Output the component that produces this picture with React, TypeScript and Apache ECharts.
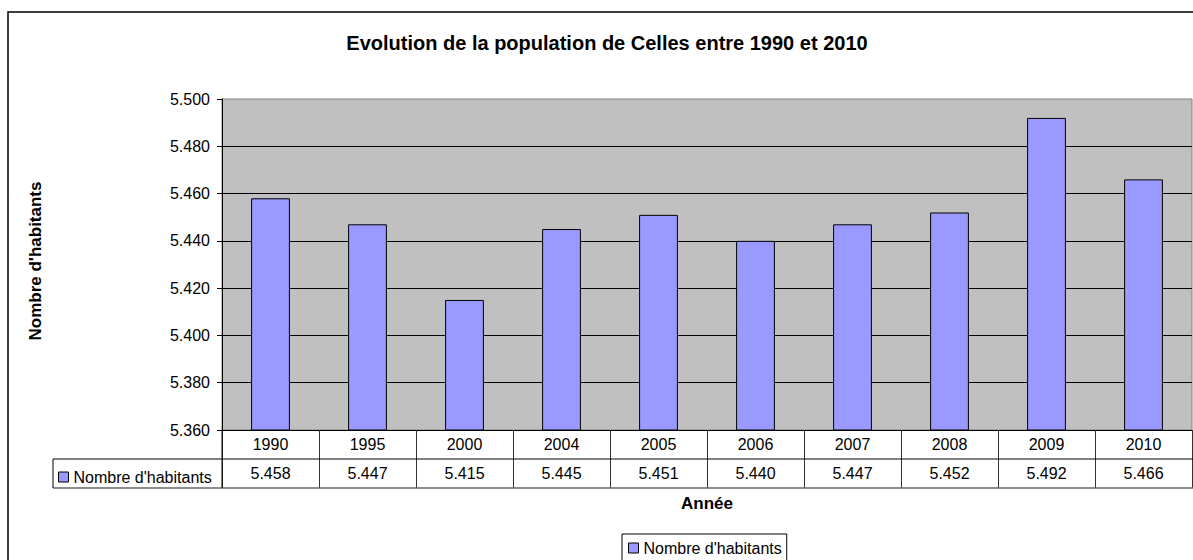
import React, { useEffect, useRef } from "react";
import * as echarts from "echarts";

const chartTitle = "Evolution de la population de Celles entre 1990 et 2010";
const years = ["1990", "1995", "2000", "2004", "2005", "2006", "2007", "2008", "2009", "2010"];
const habitants = [5458, 5447, 5415, 5445, 5451, 5440, 5447, 5452, 5492, 5466];
const seriesName = "Nombre d'habitants";
const yAxisTitle = "Nombre d'habitants";
const xAxisTitle = "Année";
const yMin = 5360;
const yMax = 5500;
const yStep = 20;

const FONT = "'Liberation Sans', Arial, sans-serif";

const fmt = (v: number): string =>
  Math.round(v)
    .toString()
    .replace(/\B(?=(\d{3})+(?!\d))/g, ".");

export default function App() {
  const ref = useRef<HTMLDivElement>(null);

  useEffect(() => {
    if (!ref.current) return;
    const chart = echarts.init(ref.current, undefined, { renderer: "svg" });

    const W = 1193;
    const gridLeft = 222;
    const gridTop = 99;
    const gridBottomY = 430;
    const rowH = 29;
    const tableLeft = 53;

    const option: any = {
      animation: false,
      backgroundColor: "#ffffff",
      textStyle: { fontFamily: FONT, color: "#000" },
      grid: {
        left: gridLeft,
        top: gridTop,
        right: 1,
        bottom: 560 - gridBottomY,
        show: true,
        backgroundColor: "#C0C0C0",
        borderColor: "#808080",
        borderWidth: 1,
        containLabel: false,
      },
      xAxis: [
        {
          type: "category",
          data: years,
          position: "bottom",
          axisLine: { show: true, lineStyle: { color: "#000", width: 1 } },
          axisTick: { show: true, inside: false, length: rowH * 2, lineStyle: { color: "#333", width: 1 } },
          axisLabel: { show: true, margin: 6, fontSize: 16, fontFamily: FONT, color: "#000" },
          splitLine: { show: false },
        },
        {
          type: "category",
          data: habitants.map(fmt),
          position: "bottom",
          offset: rowH,
          axisLine: { show: false },
          axisTick: { show: false },
          axisLabel: { show: true, margin: 6, fontSize: 16, fontFamily: FONT, color: "#000" },
          splitLine: { show: false },
        },
      ],
      yAxis: {
        type: "value",
        min: yMin,
        max: yMax,
        interval: yStep,
        axisLine: { show: true, lineStyle: { color: "#000", width: 1 } },
        axisTick: { show: true, inside: false, length: 5, lineStyle: { color: "#000" } },
        axisLabel: { margin: 12, fontSize: 16, fontFamily: FONT, color: "#000", formatter: (v: number) => fmt(v) },
        splitLine: { show: true, showMinLine: false, showMaxLine: false, lineStyle: { color: "#000", width: 1 } },
      },
      legend: [
        {
          data: [seriesName],
          left: tableLeft + 5,
          top: gridBottomY + rowH + 10,
          padding: 0,
          icon: "rect",
          itemWidth: 10,
          itemHeight: 10,
          itemStyle: { borderColor: "#000", borderWidth: 1 },
          textStyle: { fontSize: 16, fontFamily: FONT, color: "#000" },
          selectedMode: false,
        },
        {
          data: [seriesName],
          left: 622,
          top: 534,
          padding: [6, 5, 7, 6],
          borderColor: "#000",
          borderWidth: 1,
          backgroundColor: "#fff",
          icon: "rect",
          itemWidth: 10,
          itemHeight: 10,
          itemStyle: { borderColor: "#000", borderWidth: 1 },
          textStyle: { fontSize: 16, fontFamily: FONT, color: "#000" },
          selectedMode: false,
        },
      ],
      series: [
        {
          name: seriesName,
          type: "bar",
          xAxisIndex: 0,
          yAxisIndex: 0,
          data: habitants,
          barWidth: "40%",
          itemStyle: { color: "#9999FF", borderColor: "#000", borderWidth: 1 },
        },
      ],
      graphic: [
        {
          type: "rect",
          shape: { x: 8, y: 12, width: 1300, height: 700 },
          style: { fill: "none", stroke: "#000", lineWidth: 1.5 },
          silent: true,
          z: 100,
        },
        {
          type: "text",
          x: 607,
          y: 43,
          style: {
            text: chartTitle,
            align: "center",
            verticalAlign: "middle",
            font: `bold 20px ${FONT}`,
            fill: "#000",
          },
        },
        {
          type: "text",
          x: 35,
          y: 261,
          rotation: Math.PI / 2,
          style: {
            text: yAxisTitle,
            align: "center",
            verticalAlign: "middle",
            font: `bold 17px ${FONT}`,
            fill: "#000",
          },
        },
        {
          type: "text",
          x: 707,
          y: 503,
          style: {
            text: xAxisTitle,
            align: "center",
            verticalAlign: "middle",
            font: `bold 17px ${FONT}`,
            fill: "#000",
          },
        },
        {
          type: "line",
          shape: { x1: tableLeft, y1: gridBottomY + rowH, x2: W, y2: gridBottomY + rowH },
          style: { stroke: "#000", lineWidth: 1 },
          z: 50,
        },
        {
          type: "line",
          shape: { x1: tableLeft, y1: gridBottomY + rowH * 2, x2: W, y2: gridBottomY + rowH * 2 },
          style: { stroke: "#666", lineWidth: 1.5 },
          z: 50,
        },
        {
          type: "line",
          shape: { x1: tableLeft, y1: gridBottomY + rowH, x2: tableLeft, y2: gridBottomY + rowH * 2 },
          style: { stroke: "#000", lineWidth: 1 },
          z: 50,
        },
        {
          type: "line",
          shape: { x1: gridLeft, y1: gridBottomY, x2: gridLeft, y2: gridBottomY + rowH * 2 },
          style: { stroke: "#000", lineWidth: 1 },
          z: 50,
        },
      ],
    };

    chart.setOption(option);
    return () => chart.dispose();
  }, []);

  return (
    <div
      ref={ref}
      style={{ position: "fixed", left: 0, top: 0, width: "1193px", height: "560px", background: "#fff" }}
    />
  );
}
